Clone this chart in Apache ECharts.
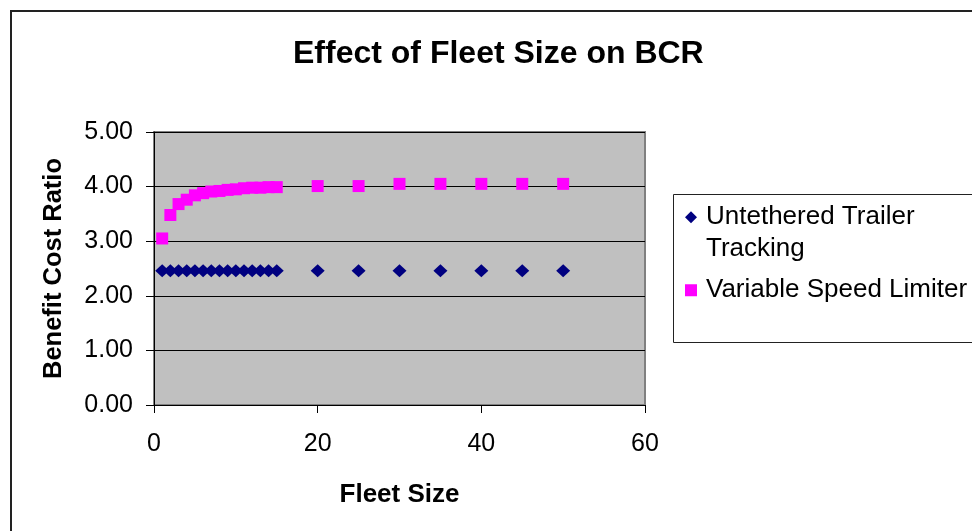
<!DOCTYPE html>
<html>
<head>
<meta charset="utf-8">
<script src="https://cdn.jsdelivr.net/npm/echarts@6/dist/echarts.min.js"></script>
<style>
  html, body { margin: 0; padding: 0; background: #fff; }
  #chart { width: 972px; height: 531px; }
</style>
</head>
<body>
<div id="chart"></div>
<script>
// Fleet sizes evaluated
const fleetSizes = [1, 2, 3, 4, 5, 6, 7, 8, 9, 10, 11, 12, 13, 14, 15, 20, 25, 30, 35, 40, 45, 50];
// Benefit cost ratio per fleet size
const untetheredTrailerTracking = [2.46, 2.46, 2.46, 2.46, 2.46, 2.46, 2.46, 2.46, 2.46, 2.46, 2.46,
  2.46, 2.46, 2.46, 2.46, 2.46, 2.46, 2.46, 2.46, 2.46, 2.46, 2.46];
const variableSpeedLimiter = [3.05, 3.48, 3.68, 3.76, 3.84, 3.88, 3.91, 3.92, 3.94, 3.95, 3.97,
  3.98, 3.98, 3.99, 3.99, 4.01, 4.01, 4.05, 4.05, 4.05, 4.05, 4.05];
const xTicks = [0, 20, 40, 60];

const FONT = '"Liberation Sans", Arial, sans-serif';

const pairs = (xs, ys) => xs.map((x, i) => [x, ys[i]]);

const chart = echarts.init(document.getElementById('chart'), null, { renderer: 'canvas' });

// Legend labels: the wrapped first entry keeps its first line level with the marker
const legendLabel = name => name === 'Untethered Trailer Tracking'
  ? '{t| }\n{t|Untethered Trailer}\n{t|Tracking}'
  : '{t|' + name + '}';

chart.setOption({
  backgroundColor: '#ffffff',
  animation: false,
  title: {
    text: 'Effect of Fleet Size on BCR',
    left: 293,
    top: 38,
    padding: 0,
    textStyle: { fontFamily: FONT, fontSize: 32, fontWeight: 'bold', color: '#000' }
  },
  graphic: [
    {
      type: 'rect', silent: true,
      shape: { x: 11, y: 11, width: 1000, height: 560 },
      style: { fill: 'none', stroke: '#222', lineWidth: 2 }
    },
    {
      type: 'rect', silent: true,
      shape: { x: 673.5, y: 194.5, width: 320, height: 148 },
      style: { fill: '#fff', stroke: '#222', lineWidth: 1 }
    }
  ],
  legend: {
    orient: 'vertical',
    left: 680,
    top: 165,
    itemWidth: 12,
    itemHeight: 12,
    itemGap: 10,
    selectedMode: false,
    textStyle: {
      fontFamily: FONT, fontSize: 26, color: '#000', lineHeight: 31.5,
      rich: {
        t: { fontFamily: FONT, fontSize: 26, color: '#000', lineHeight: 31.5, padding: [0, 0, 0, 4] }
      }
    },
    data: [
      { name: 'Untethered Trailer Tracking', icon: 'diamond' },
      { name: 'Variable Speed Limiter', icon: 'rect', itemStyle: { borderWidth: 0 } }
    ],
    formatter: legendLabel
  },
  grid: {
    left: 154, right: 327, top: 132, bottom: 126,
    show: true,
    backgroundColor: '#C0C0C0',
    borderColor: '#808080',
    borderWidth: 2,
    outerBoundsMode: 'none'
  },
  xAxis: {
    type: 'value',
    min: 0, max: 60, interval: 20,
    name: 'Fleet Size',
    nameLocation: 'middle',
    nameGap: 77,
    nameTextStyle: { fontFamily: FONT, fontSize: 26, fontWeight: 'bold', color: '#000' },
    axisLine: { show: true, onZero: false, lineStyle: { color: '#000', width: 1 } },
    axisTick: { show: true, inside: false, length: 8, lineStyle: { color: '#000' } },
    axisLabel: {
      fontFamily: FONT, fontSize: 25, color: '#000', margin: 27,
      customValues: xTicks
    },
    splitLine: { show: false }
  },
  yAxis: {
    type: 'value',
    min: 0, max: 5, interval: 1,
    name: 'Benefit Cost Ratio',
    nameLocation: 'middle',
    nameGap: 87,
    nameTextStyle: { fontFamily: FONT, fontSize: 25.5, fontWeight: 'bold', color: '#000' },
    axisLine: { show: true, onZero: false, lineStyle: { color: '#000', width: 1 } },
    axisTick: { show: true, inside: false, length: 8, lineStyle: { color: '#000' } },
    axisLabel: {
      fontFamily: FONT, fontSize: 25, color: '#000', margin: 21,
      formatter: v => v.toFixed(2)
    },
    splitLine: { show: true, lineStyle: { color: '#000', width: 1 } }
  },
  series: [
    {
      name: 'Untethered Trailer Tracking',
      type: 'scatter',
      symbol: 'diamond',
      symbolSize: [14, 13],
      itemStyle: { color: '#000080', opacity: 1 },
      data: pairs(fleetSizes, untetheredTrailerTracking)
    },
    {
      name: 'Variable Speed Limiter',
      type: 'scatter',
      symbol: 'rect',
      symbolSize: 12,
      itemStyle: { color: '#FF00FF', opacity: 1 },
      data: pairs(fleetSizes, variableSpeedLimiter)
    }
  ]
});
</script>
</body>
</html>
